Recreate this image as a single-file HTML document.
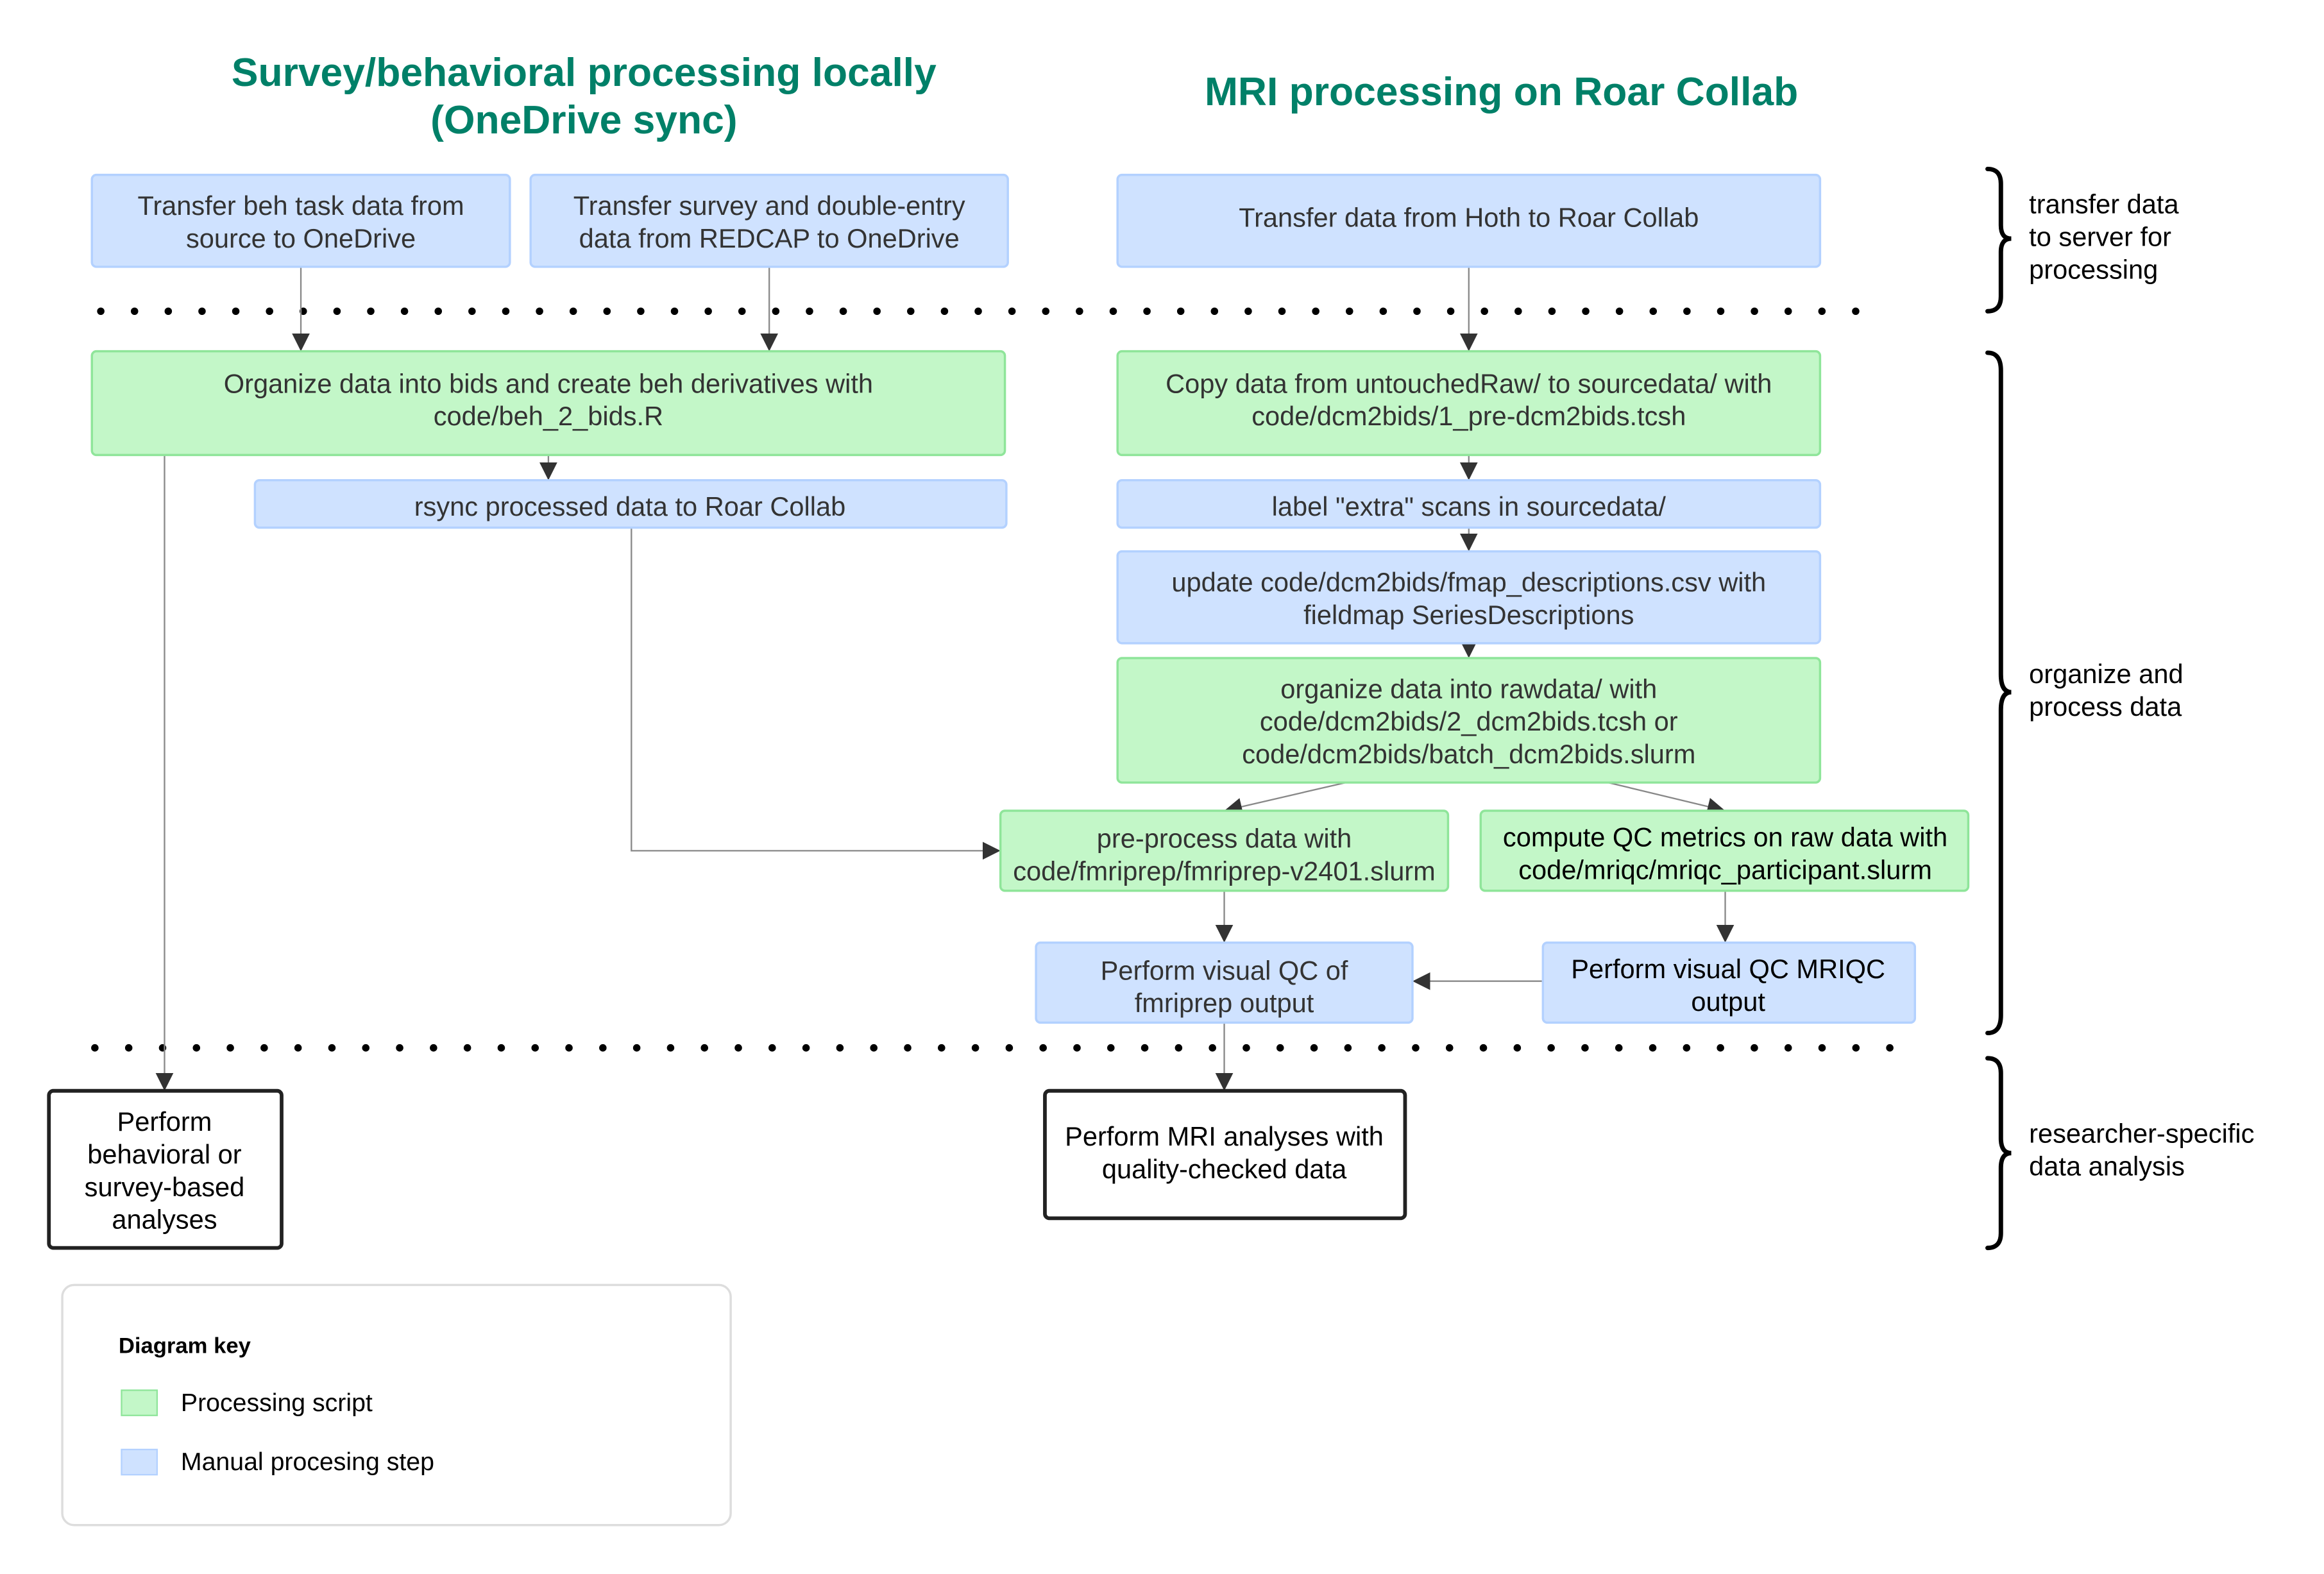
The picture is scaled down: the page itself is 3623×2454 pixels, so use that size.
<!DOCTYPE html>
<html><head><meta charset="utf-8"><style>html,body{margin:0;padding:0;background:#fff}svg{display:block}</style></head>
<body>
<svg width="3623" height="2454" viewBox="0 0 1568 1062" preserveAspectRatio="none" xmlns="http://www.w3.org/2000/svg" font-family="Liberation Sans, sans-serif">
<defs>
<marker id="a" viewBox="0 0 10 10" refX="10" refY="5" markerWidth="12" markerHeight="12" markerUnits="userSpaceOnUse" orient="auto"><path d="M0,0 L10,5 L0,10 z" fill="#333"/></marker>
</defs>
<rect width="1568" height="1062" fill="#fff"/>
<g fill="#008068" font-weight="bold" font-size="27" text-anchor="middle">
<text x="394" y="58">Survey/behavioral processing locally</text>
<text x="394" y="90">(OneDrive sync)</text>
<text x="1013" y="71">MRI processing on Roar Collab</text>
</g>
<line x1="68" y1="210" x2="1253" y2="210" stroke="#000" stroke-width="5" stroke-linecap="round" stroke-dasharray="0 22.77"/>
<line x1="64" y1="707" x2="1276" y2="707" stroke="#000" stroke-width="5" stroke-linecap="round" stroke-dasharray="0 22.85"/>
<g stroke="#888" stroke-width="1" fill="none" marker-end="url(#a)">
<path d="M203,180 V237"/><path d="M519,180 V237"/><path d="M991,180 V237"/>
<path d="M370,307 V324"/><path d="M991,307 V324"/><path d="M991,356 V372"/><path d="M991,434 V444"/>
<path d="M908,528 L826,547"/><path d="M1085,528 L1164,547"/>
<path d="M826,601 V636"/><path d="M1164,601 V636"/>
<path d="M1041,662 H953"/><path d="M826,690 V736"/><path d="M111,307 V736"/>
<path d="M426,356 V574 H675"/>
</g>
<g stroke-width="1.5">
<g fill="#cfe2ff" stroke="#b3d1ff">
<rect x="62" y="118" width="282" height="62" rx="3"/>
<rect x="358" y="118" width="322" height="62" rx="3"/>
<rect x="754" y="118" width="474" height="62" rx="3"/>
<rect x="172" y="324" width="507" height="32" rx="3"/>
<rect x="754" y="324" width="474" height="32" rx="3"/>
<rect x="754" y="372" width="474" height="62" rx="3"/>
<rect x="699" y="636" width="254" height="54" rx="3"/>
<rect x="1041" y="636" width="251" height="54" rx="3"/>
</g>
<g fill="#c3f7c8" stroke="#8fe59a">
<rect x="62" y="237" width="616" height="70" rx="3"/>
<rect x="754" y="237" width="474" height="70" rx="3"/>
<rect x="754" y="444" width="474" height="84" rx="3"/>
<rect x="675" y="547" width="302" height="54" rx="3"/>
<rect x="999" y="547" width="329" height="54" rx="3"/>
</g>
<g fill="#fff" stroke="#222" stroke-width="2.5">
<rect x="33" y="736" width="157" height="106" rx="3"/>
<rect x="705" y="736" width="243" height="86" rx="3"/>
</g>
<rect x="42" y="867" width="451" height="162" rx="8" fill="#fff" stroke="#ddd"/>
<rect x="82" y="938" width="24" height="17" fill="#c3f7c8" stroke="#8fe59a" stroke-width="1"/>
<rect x="82" y="978" width="24" height="17" fill="#cfe2ff" stroke="#b3d1ff" stroke-width="1"/>
</g>
<g font-size="18" fill="#333" text-anchor="middle">
<text x="203" y="145">Transfer beh task data from</text><text x="203" y="167">source to OneDrive</text>
<text x="519" y="145">Transfer survey and double-entry</text><text x="519" y="167">data from REDCAP to OneDrive</text>
<text x="991" y="153">Transfer data from Hoth to Roar Collab</text>
<text x="370" y="265">Organize data into bids and create beh derivatives with</text><text x="370" y="287">code/beh_2_bids.R</text>
<text x="425" y="348">rsync processed data to Roar Collab</text>
<text x="991" y="265">Copy data from untouchedRaw/ to sourcedata/ with</text><text x="991" y="287">code/dcm2bids/1_pre-dcm2bids.tcsh</text>
<text x="991" y="348">label "extra" scans in sourcedata/</text>
<text x="991" y="399">update code/dcm2bids/fmap_descriptions.csv with</text><text x="991" y="421">fieldmap SeriesDescriptions</text>
<text x="991" y="471">organize data into rawdata/ with</text><text x="991" y="493">code/dcm2bids/2_dcm2bids.tcsh or</text><text x="991" y="515">code/dcm2bids/batch_dcm2bids.slurm</text>
<text x="826" y="572">pre-process data with</text><text x="826" y="594">code/fmriprep/fmriprep-v2401.slurm</text>
<text x="826" y="661">Perform visual QC of</text><text x="826" y="683">fmriprep output</text>
</g>
<g font-size="18" fill="#000" text-anchor="middle">
<text x="1164" y="571">compute QC metrics on raw data with</text><text x="1164" y="593">code/mriqc/mriqc_participant.slurm</text>
<text x="1166" y="660">Perform visual QC MRIQC</text><text x="1166" y="682">output</text>
<text x="111" y="763">Perform</text><text x="111" y="785">behavioral or</text><text x="111" y="807">survey-based</text><text x="111" y="829">analyses</text>
<text x="826" y="773">Perform MRI analyses with</text><text x="826" y="795">quality-checked data</text>
</g>
<g font-size="18" fill="#000">
<text x="1369" y="144">transfer data</text><text x="1369" y="166">to server for</text><text x="1369" y="188">processing</text>
<text x="1369" y="461">organize and</text><text x="1369" y="483">process data</text>
<text x="1369" y="771">researcher-specific</text><text x="1369" y="793">data analysis</text>
<text x="122" y="952" font-size="17">Processing script</text>
<text x="122" y="992" font-size="17">Manual procesing step</text>
<text x="80" y="913" font-size="15" font-weight="bold">Diagram key</text>
</g>
<g fill="none" stroke="#000" stroke-width="3" stroke-linecap="round">
<path d="M1341,114 Q1350,114 1350,124 V152 Q1350,161 1357,161 Q1350,161 1350,170 V200 Q1350,210 1341,210"/>
<path d="M1341,238 Q1350,238 1350,250 V455 Q1350,467 1357,467 Q1350,467 1350,479 V685 Q1350,697 1341,697"/>
<path d="M1341,714 Q1350,714 1350,724 V768 Q1350,778 1357,778 Q1350,778 1350,788 V832 Q1350,842 1341,842"/>
</g>
</svg>
</body></html>
